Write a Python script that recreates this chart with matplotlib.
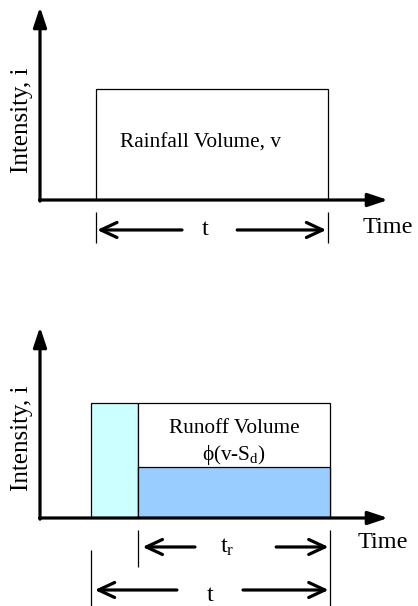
import matplotlib
matplotlib.use('Agg')
import matplotlib.pyplot as plt
from matplotlib.patches import Rectangle

plt.rcParams['font.family'] = ['Liberation Serif', 'DejaVu Serif']
plt.rcParams['mathtext.fontset'] = 'custom'
plt.rcParams['mathtext.rm'] = 'Liberation Serif'
plt.rcParams['mathtext.it'] = 'Liberation Serif'

# top panel: rainfall hyetograph
rain_start = 1.2
rain_end = 6.2
rain_i = 1.0

# bottom panel: runoff hyetograph
run_start = 1.1      # rain begins
run_pond = 2.11      # initial abstraction satisfied
run_end = 6.25
run_i = 1.0
loss_i = 0.44        # phi-index level

W, H = 418, 606
fig = plt.figure(figsize=(W / 100, H / 100), dpi=100)

px_x = 46.4          # pixels per time unit
px_top = 111.0       # pixels per intensity unit (top)
px_bot = 115.0       # pixels per intensity unit (bottom)


def make_axes(origin_y, px_y, tip_y):
    # origin at pixel x=40, y=origin_y (from top)
    left = 40 / W
    bottom = (H - origin_y) / H
    width = (388 - 40) / W
    height = (origin_y - tip_y) / H
    ax = fig.add_axes([left, bottom, width, height])
    ax.set_xlim(0, (388 - 40) / px_x)
    ax.set_ylim(0, (origin_y - tip_y) / px_y)
    ax.axis('off')
    xmax = ax.get_xlim()[1]
    ymax = ax.get_ylim()[1]
    head = '-|>,head_length=0.6,head_width=0.2'
    ax.annotate('', xy=(0, ymax), xytext=(0, -0.01),
                arrowprops=dict(arrowstyle=head, color='black', lw=2.3,
                                mutation_scale=20, shrinkA=0, shrinkB=0),
                annotation_clip=False)
    ax.annotate('', xy=(xmax, 0), xytext=(-0.01, 0),
                arrowprops=dict(arrowstyle=head, color='black', lw=2.3,
                                mutation_scale=20, shrinkA=0, shrinkB=0),
                annotation_clip=False)
    return ax


def dim_arrow(ax, x0, x1, y):
    ax.annotate('', xy=(x1, y), xytext=(x0, y),
                arrowprops=dict(arrowstyle='->,head_length=0.58,head_width=0.27',
                                color='black', lw=2.3, mutation_scale=20,
                                shrinkA=0, shrinkB=0),
                annotation_clip=False)


def vline(ax, x, y0, y1):
    ax.plot([x, x], [y0, y1], color='black', lw=0.9, clip_on=False,
            solid_capstyle='butt')


# ---------- top panel ----------
ax1 = make_axes(200, px_top, 7)
ax1.add_patch(Rectangle((rain_start, 0), rain_end - rain_start, rain_i,
                        facecolor='white', edgecolor='black', lw=0.9, zorder=1))
ax1.text(3.45, 0.51, 'Rainfall Volume, v', fontsize=15.3,
         ha='center', va='center')
ax1.text(-0.39, 0.72, 'Intensity, i', fontsize=18, rotation=90,
         ha='center', va='center')
vline(ax1, rain_start, -0.108, -0.387)
vline(ax1, rain_end, -0.108, -0.387)
dim_arrow(ax1, 3.06, rain_start + 0.03, -0.27)
dim_arrow(ax1, 4.25, rain_end - 0.03, -0.27)
ax1.text(3.56, -0.27, 't', fontsize=17.5, ha='center', va='center')
ax1.text(6.96, -0.25, 'Time', fontsize=17.5, ha='left', va='center')

# ---------- bottom panel ----------
ax2 = make_axes(518, px_bot, 327)
ax2.add_patch(Rectangle((run_start, 0), run_pond - run_start, run_i,
                        facecolor='#CCFFFF', edgecolor='black', lw=0.9, zorder=1))
ax2.add_patch(Rectangle((run_pond, 0), run_end - run_pond, run_i,
                        facecolor='white', edgecolor='black', lw=0.9, zorder=1))
ax2.add_patch(Rectangle((run_pond, 0), run_end - run_pond, loss_i,
                        facecolor='#99CCFF', edgecolor='black', lw=0.9, zorder=2))
ax2.text((run_pond + run_end) / 2, 0.78, 'Runoff Volume', fontsize=15.3,
         ha='center', va='center')
ax2.text((run_pond + run_end) / 2, 0.55, r'ϕ(v-S$_\mathrm{d}$)', fontsize=15.3,
         ha='center', va='center')
ax2.text(-0.39, 0.69, 'Intensity, i', fontsize=18, rotation=90,
         ha='center', va='center')
vline(ax2, run_pond, -0.104, -0.426)
vline(ax2, run_end, -0.104, -0.765)
vline(ax2, run_start, -0.278, -0.765)
dim_arrow(ax2, 3.34, run_pond + 0.1, -0.252)
dim_arrow(ax2, 5.09, run_end - 0.03, -0.252)
ax2.text(4.03, -0.252, r't$_\mathrm{r}$', fontsize=17.5, ha='center', va='center')
dim_arrow(ax2, 2.95, run_start + 0.08, -0.626)
dim_arrow(ax2, 4.375, run_end - 0.03, -0.626)
ax2.text(3.66, -0.67, 't', fontsize=17.5, ha='center', va='center')
ax2.text(6.84, -0.21, 'Time', fontsize=17.5, ha='left', va='center')

fig.savefig('out.png', dpi=100)
